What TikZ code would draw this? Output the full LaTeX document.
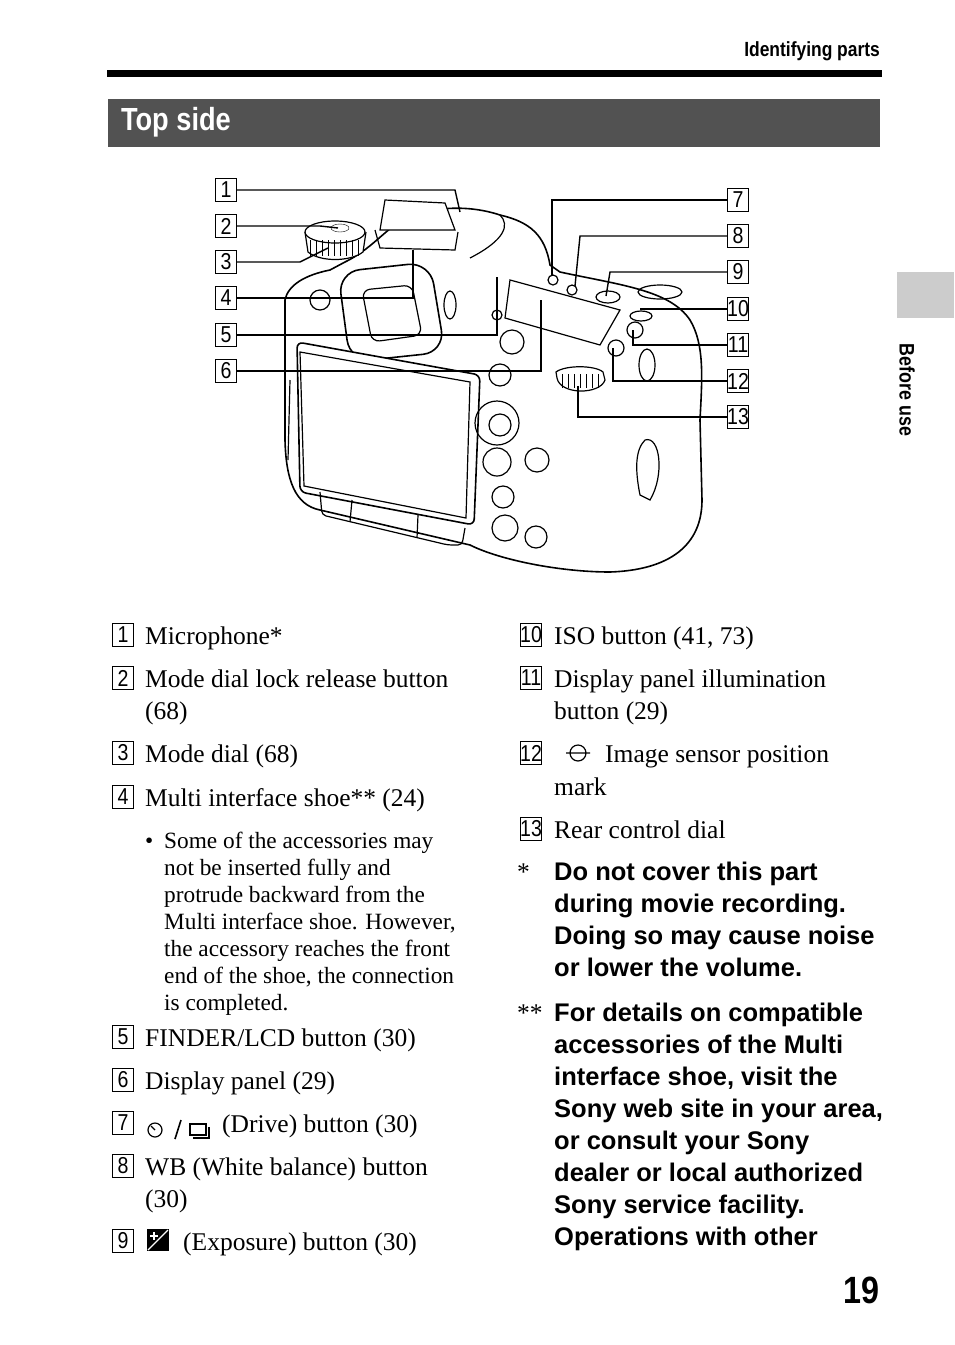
\documentclass[tikz,border=0pt]{standalone}
\usepackage{fontspec}
\setmainfont{Liberation Serif}
\setsansfont{Liberation Sans}
\usetikzlibrary{positioning}

\tikzset{
    numbox/.style={draw,line width=1.1pt,inner sep=0pt,minimum width=25pt,minimum height=23pt,font=\sffamily\fontsize{23}{23}\selectfont,xscale=0.85,transform shape},
    body/.style={anchor=base west,inner sep=0pt,font=\fontsize{25.5}{32}\selectfont},
    small/.style={anchor=base west,inner sep=0pt,font=\fontsize{23.3}{27}\selectfont},
    note/.style={anchor=base west,inner sep=0pt,font=\sffamily\bfseries\fontsize{25.5}{32}\selectfont},
    leader/.style={line width=1.4pt},
    cam/.style={line width=1.6pt},
    part/.style={line width=1.2pt}
}

\begin{document}
\begin{tikzpicture}[x=1pt,y=-1pt]
    \useasboundingbox (0,0) rectangle (954,1345);

    % page head
    \node[anchor=base east,inner sep=0pt,font=\sffamily\bfseries\fontsize{20.5}{20}\selectfont,xscale=0.85,transform shape] (head) at (880,56) {Identifying parts};
    \fill (107,70) rectangle (882,77);
    \fill[black!68] (108,99) rectangle (880,147);
    \node[anchor=west,text=white,font=\sffamily\bfseries\fontsize{32}{32}\selectfont,xscale=0.85,transform shape] (title) at (118,122) {Top side};
    \fill[black!20] (897,272) rectangle (954,318);
    \node[rotate=-90,font=\sffamily\bfseries\fontsize{21}{20}\selectfont,xscale=0.85,transform shape] (tab) at (907,390) {Before use};
    \node[anchor=base east,inner sep=0pt,font=\sffamily\bfseries\fontsize{38}{38}\selectfont,xscale=0.85,transform shape] (page) at (880,1303) {19};

    % camera body
    \draw[cam] (285,300) .. controls (288,285) and (305,275) .. (330,270)
        -- (345,262) .. controls (370,250) and (385,230) .. (400,222)
        .. controls (430,205) and (470,205) .. (500,215)
        .. controls (530,222) and (545,235) .. (550,265)
        -- (560,272) .. controls (620,285) and (670,290) .. (690,320)
        .. controls (705,345) and (702,380) .. (700,420)
        -- (702,500) .. controls (702,545) and (670,570) .. (610,572)
        .. controls (560,572) and (500,560) .. (470,545)
        -- (320,510) .. controls (295,505) and (286,480) .. (285,440) -- cycle;
    \draw[part] (500,215) .. controls (510,225) and (505,240) .. (470,258);
    % mode dial
    \draw[part,fill=white] (305,232) -- (308,252) .. controls (320,262) and (350,262) .. (363,252) -- (366,232);
    \draw[part,fill=white] (335,232) ellipse (30 and 11);
    \foreach \t in {310,316,...,360}
        \draw (\t,240) -- (\t,256);
    \draw (340,228) ellipse (9 and 4);
    % shoe and eyecup
    \draw[part,fill=white] (385,200) -- (445,203) -- (455,230) -- (380,230) -- cycle;
    \draw[part] (375,230) -- (380,248) -- (455,250) -- (458,232);
    \draw[cam,rounded corners=22pt,fill=white] (338,272) -- (430,262) -- (445,352) -- (350,362) -- cycle;
    \draw[part,rounded corners=8pt] (362,290) -- (412,285) -- (422,335) -- (372,342) -- cycle;
    \draw[part] (450,305) ellipse (6 and 14);
    % LCD
    \draw[cam,fill=white,rounded corners=6pt] (297,342) -- (480,375) -- (474,525) -- (300,492) -- cycle;
    \draw[part] (300,352) -- (470,382) -- (466,518) -- (304,486) -- cycle;
    \draw[part,rounded corners=4pt] (320,492) -- (322,515) -- (448,545) -- (462,545) -- (465,528);
    \draw[part] (352,500) -- (350,522);
    \draw[part] (418,515) -- (417,538);
    \draw[part] (290,380) -- (288,460);
    % display panel
    \draw[part,fill=white] (510,280) -- (620,310) -- (600,345) -- (505,318) -- cycle;
    % buttons
    \foreach \bx/\by/\br in {320/300/10, 497/315/5, 512/342/12, 500/375/11, 497/462/14, 537/460/12, 503/497/11, 505/528/13, 536/537/11, 553/280/5, 572/290/5, 635/330/8, 616/348/8}
        \draw[part] (\bx,\by) circle (\br);
    \draw[part] (497,423) circle (22);
    \draw[part] (500,425) circle (11);
    \draw[part] (608,297) ellipse (12 and 6);
    \draw[part] (641,316) ellipse (11 and 5);
    \draw[part] (660,292) ellipse (22 and 7);
    \draw[part] (647,365) ellipse (8 and 16);
    \draw[part] (645,440) .. controls (660,435) and (665,475) .. (650,500) -- (640,495) .. controls (635,470) and (635,450) .. (645,440);
    % rear dial
    \draw[part,fill=white] (557,378) .. controls (560,395) and (600,395) .. (605,380) -- (603,372) .. controls (595,365) and (565,365) .. (556,372) -- cycle;
    \foreach \t in {562,568,...,600}
        \draw (\t,374) -- (\t,388);

    % number boxes
    \foreach \k/\yy in {1/190, 2/226, 3/262, 4/298, 5/335, 6/371}
        \node[numbox] (n\k) at (226,\yy) {\k};
    \foreach \k/\yy in {7/200, 8/236, 9/272, 10/309, 11/345, 12/381, 13/417}
        \node[numbox] (n\k) at (738,\yy) {\k};

    % leader ends
    \coordinate (p1) at (460,212);
    \coordinate (p2) at (338,228);
    \coordinate (p3) at (328,248);
    \coordinate (p4) at (413,250);
    \coordinate (p5) at (497,277);
    \coordinate (p6) at (541,300);
    \coordinate (p7) at (552,275);
    \coordinate (p8) at (575,286);
    \coordinate (p9) at (606,296);
    \coordinate (p10) at (640,309);
    \coordinate (p11) at (633,330);
    \coordinate (p12) at (613,348);
    \coordinate (p13) at (578,386);

    \draw[leader] (n1.east) -- (455,190) -- (p1);
    \draw[leader] (n2.east) -- (320,226) -- (p2);
    \draw[leader] (n3.east) -- (300,262) -- (p3);
    \draw[leader] (n4.east) -| (p4);
    \draw[leader] (n5.east) -| (p5);
    \draw[leader] (n6.east) -| (p6);
    \draw[leader] (n7.west) -| (p7);
    \draw[leader] (n8.west) -- (580,236) -- (p8);
    \draw[leader] (n9.west) -- (610,272) -- (p9);
    \draw[leader] (n10.west) -- (p10);
    \draw[leader] (n11.west) -| (p11);
    \draw[leader] (n12.west) -| (p12);
    \draw[leader] (n13.west) -| (p13);

    % left column
    \foreach \k/\yy in {1/635, 2/678, 3/753, 4/797, 5/1037, 6/1080, 7/1123, 8/1166, 9/1241}
        \node[numbox] (l\k) at (123,\yy) {\k};
    \node[body] (t1) at (145,644) {Microphone*};
    \node[body] (t2) at (145,687) {Mode dial lock release button};
    \node[body] (t2b) at (145,719) {(68)};
    \node[body] (t3) at (145,762) {Mode dial (68)};
    \node[body] (t4) at (145,806) {Multi interface shoe** (24)};
    \node[small] (bul) at (145,848) {•};
    \node[small] (s1) at (164,848) {Some of the accessories may};
    \node[small] (s2) at (164,875) {not be inserted fully and};
    \node[small] (s3) at (164,902) {protrude backward from the};
    \node[small] (s4) at (164,929) {Multi interface shoe. However,};
    \node[small] (s5) at (164,956) {the accessory reaches the front};
    \node[small] (s6) at (164,983) {end of the shoe, the connection};
    \node[small] (s7) at (164,1010) {is completed.};
    \node[body] (t5) at (145,1046) {FINDER/LCD button (30)};
    \node[body] (t6) at (145,1089) {Display panel (29)};
    % drive icon
    \draw[line width=1.2pt] (155,1130) circle (7);
    \draw[line width=1.2pt] (155,1130) -- (151,1126);
    \draw[line width=1.6pt] (175,1139) -- (181,1120);
    \draw[line width=1.2pt] (190,1124) rectangle (206,1135);
    \draw[line width=1.2pt] (193,1138) -- (209,1138) -- (209,1127);
    \node[body] (t7) at (222,1132) {(Drive) button (30)};
    \node[body] (t8) at (145,1175) {WB (White balance) button};
    \node[body] (t8b) at (145,1207) {(30)};
    % exposure icon
    \fill (147,1229) rectangle (169,1251);
    \draw[white,line width=1.2pt] (148,1250) -- (168,1230);
    \draw[white,line width=1.2pt] (150,1236) -- (158,1236) (154,1232) -- (154,1240);
    \node[body] (t9) at (183,1250) {(Exposure) button (30)};

    % right column
    \foreach \k/\yy in {10/635, 11/678, 12/753, 13/829}
        \node[numbox] (r\k) at (531,\yy) {\k};
    \node[body] (t10) at (554,644) {ISO button (41, 73)};
    \node[body] (t11) at (554,687) {Display panel illumination};
    \node[body] (t11b) at (554,719) {button (29)};
    \draw[line width=1.2pt] (578,753) circle (8) (566,753) -- (590,753);
    \node[body] (t12) at (605,762) {Image sensor position};
    \node[body] (t12b) at (554,795) {mark};
    \node[body] (t13) at (554,838) {Rear control dial};
    \node[body] (st1) at (517,880) {*};
    \node[note] (m1) at (554,880) {Do not cover this part};
    \node[note] (m2) at (554,912) {during movie recording.};
    \node[note] (m3) at (554,944) {Doing so may cause noise};
    \node[note] (m4) at (554,976) {or lower the volume.};
    \node[body] (st2) at (517,1021) {**};
    \node[note] (q1) at (554,1021) {For details on compatible};
    \node[note] (q2) at (554,1053) {accessories of the Multi};
    \node[note] (q3) at (554,1085) {interface shoe, visit the};
    \node[note] (q4) at (554,1117) {Sony web site in your area,};
    \node[note] (q5) at (554,1149) {or consult your Sony};
    \node[note] (q6) at (554,1181) {dealer or local authorized};
    \node[note] (q7) at (554,1213) {Sony service facility.};
    \node[note] (q8) at (554,1245) {Operations with other};
\end{tikzpicture}
\end{document}
